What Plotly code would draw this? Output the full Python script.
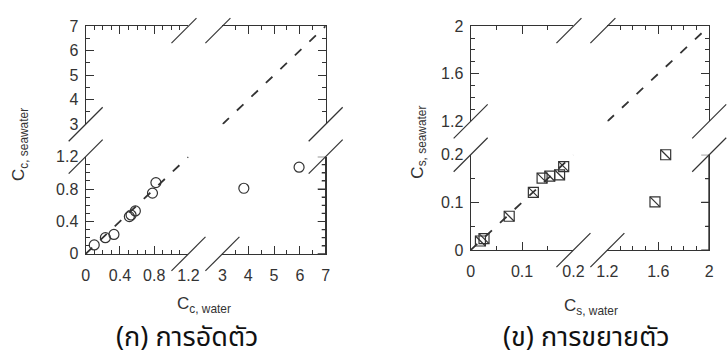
import plotly.graph_objects as go

# ---------------- data ----------------
cc_water = [0.10, 0.23, 0.33, 0.51, 0.53, 0.58, 0.78, 0.82, 3.83, 5.97]
cc_seawater = [0.11, 0.20, 0.24, 0.46, 0.48, 0.53, 0.75, 0.88, 0.81, 1.07]

cs_water = [0.019, 0.026, 0.075, 0.122, 0.139, 0.154, 0.173, 0.181, 1.574, 1.658]
cs_seawater = [0.019, 0.024, 0.071, 0.121, 0.151, 0.155, 0.158, 0.175, 0.101, 0.200]

# broken-axis ranges (low segment, high segment)
cc_lo = [0, 1.2]
cc_hi = [3, 7]
cs_lo = [0, 0.2]
cs_hi = [1.2, 2]

cc_x_title = "C<sub>c, water</sub>"
cc_y_title = "C<sub>c, seawater</sub>"
cs_x_title = "C<sub>s, water</sub>"
cs_y_title = "C<sub>s, seawater</sub>"
caption_a = "(ก) การอัดตัว"
caption_b = "(ข) การขยายตัว"

W, H = 727, 362
INK = "#333333"
FONT = "Liberation Sans, Arial, sans-serif"
MAJ, MIN = 8, 4


def px_x(a, b):
    return [a / W, b / W]


def px_y(top, bottom):
    return [1 - bottom / H, 1 - top / H]


fig = go.Figure()
layout = {}
shapes = []
annotations = []


def axis_common(rng, dtick, minor_dtick, side, labels, dom, anchor, is_x):
    return dict(
        range=rng, domain=dom, anchor=anchor, side=side,
        tickmode="linear", tick0=rng[0], dtick=dtick,
        ticks="inside", ticklen=MAJ, tickwidth=1.2, tickcolor=INK,
        minor=dict(ticks="inside", ticklen=MIN, dtick=minor_dtick),
        showline=True, linecolor=INK, linewidth=1.3, mirror=False,
        showgrid=False, zeroline=False, showticklabels=labels,
        tickfont=dict(family=FONT, size=16, color=INK),
        ticklabelstandoff=7 if is_x else 3,
    )


def tick_values(rng, step):
    n = int(round((rng[1] - rng[0]) / step))
    return [rng[0] + i * step for i in range(n + 1)]


def slash(xp, yp, up=17, down=17):
    shapes.append(dict(
        type="line", xref="paper", yref="paper",
        xsizemode="pixel", ysizemode="pixel",
        xanchor=xp, yanchor=yp,
        x0=-down, x1=up, y0=-down, y1=up,
        line=dict(color=INK, width=1.2),
    ))


def right_edge(xname, yname, xrng, yrng, dtick, mdtick, xp, ydom):
    # right frame line of the lower-right block, with inward ticks
    xe = xrng[1]
    fig.add_trace(go.Scatter(
        x=[xe, xe], y=yrng, mode="lines", xaxis=xname, yaxis=yname,
        cliponaxis=False, line=dict(color=INK, width=1.3),
        hoverinfo="skip", showlegend=False))
    shapes.append(dict(type="line", xref="paper", yref="paper",
                       x0=xp, x1=xp, y0=ydom[0], y1=ydom[1],
                       line=dict(color=INK, width=1.3)))
    majors = tick_values(yrng, dtick)
    for v in tick_values(yrng, mdtick):
        is_major = any(abs(v - m) < 1e-9 for m in majors)
        shapes.append(dict(
            type="line", xref=xname, yref=yname,
            xsizemode="pixel", xanchor=xe,
            x0=-(MAJ if is_major else MIN), x1=0, y0=v, y1=v,
            line=dict(color=INK, width=1.2)))


def panel(idx0, xs, ys, lo, hi, dticks, dom_px, symbol_traces):
    (xlo_dom, xhi_dom, ylo_dom, yhi_dom) = dom_px
    (dt_lo, mdt_lo, dt_hi, mdt_hi) = dticks
    ids = [idx0 + i for i in range(4)]
    names = ["" if i == 1 else str(i) for i in ids]
    cfg = [
        ("bottom", lo, dt_lo, mdt_lo, True, xlo_dom, "left", lo, dt_lo, mdt_lo, True, ylo_dom),
        ("bottom", hi, dt_hi, mdt_hi, True, xhi_dom, "right", lo, dt_lo, mdt_lo, False, ylo_dom),
        ("top", lo, dt_lo, mdt_lo, False, xlo_dom, "left", hi, dt_hi, mdt_hi, True, yhi_dom),
        ("top", hi, dt_hi, mdt_hi, False, xhi_dom, "right", hi, dt_hi, mdt_hi, False, yhi_dom),
    ]
    for i, (n, c) in enumerate(zip(names, cfg)):
        xs_side, xr, xdt, xmdt, xl, xd, ys_side, yr, ydt, ymdt, yl, yd = c
        layout["xaxis" + n] = axis_common(xr, xdt, xmdt, xs_side, xl, xd, "y" + n, True)
        layout["yaxis" + n] = axis_common(yr, ydt, ymdt, ys_side, yl, yd, "x" + n, False)
        fig.add_trace(go.Scatter(
            x=xr, y=yr, mode="markers", xaxis="x" + n, yaxis="y" + n,
            marker=dict(opacity=0, size=1), hoverinfo="skip", showlegend=False))

    right_edge("x" + names[1], "y" + names[1], hi, lo, dt_lo, mdt_lo,
               xhi_dom[1], ylo_dom)

    pts = {0: ([], []), 1: ([], [])}
    for x, y in zip(xs, ys):
        k = 0 if x <= lo[1] else 1
        pts[k][0].append(x)
        pts[k][1].append(y)

    for n, r in ((names[0], lo), (names[3], hi)):
        fig.add_trace(go.Scatter(
            x=r, y=r, mode="lines", xaxis="x" + n, yaxis="y" + n,
            line=dict(color=INK, width=1.8, dash="9px,11px"),
            hoverinfo="skip", showlegend=False))

    for k, n in ((0, names[0]), (1, names[1])):
        for sym in symbol_traces:
            fig.add_trace(go.Scatter(
                x=pts[k][0], y=pts[k][1], mode="markers",
                xaxis="x" + n, yaxis="y" + n, cliponaxis=False,
                marker=dict(symbol=sym, size=10, color=INK,
                            line=dict(color=INK, width=1.2)),
                showlegend=False))

    L, R = xlo_dom[0], xhi_dom[1]
    B, T = ylo_dom[0], yhi_dom[1]
    for xp in (xlo_dom[1], xhi_dom[0]):
        slash(xp, B)
        slash(xp, T, up=8)
    for yp in (ylo_dom[1], yhi_dom[0]):
        slash(L, yp)
        slash(R, yp)


panel(1, cc_water, cc_seawater, cc_lo, cc_hi, (0.4, 0.1, 1, 0.5),
      (px_x(77, 183), px_x(218, 324.5), px_y(156, 258), px_y(19, 122)),
      ["circle-open"])
panel(5, cs_water, cs_seawater, cs_lo, cs_hi, (0.1, 0.05, 0.4, 0.1),
      (px_x(474, 580), px_x(615, 720), px_y(154, 254), px_y(19, 119)),
      ["square-open", "line-nw-open"])


def ann(text, x, y, size, angle=0, family=FONT, color=INK, xanchor="center"):
    annotations.append(dict(
        text=text, x=x / W, y=1 - y / H, xref="paper", yref="paper",
        xanchor=xanchor, yanchor="middle", showarrow=False, textangle=angle,
        font=dict(family=family, size=size, color=color)))


THAI = "Noto Sans Thai, Noto Sans, DejaVu Sans, sans-serif"
ann(cc_x_title, 199, 312, 17)
ann(cc_y_title, 10, 143, 17, angle=-90)
ann(cs_x_title, 598, 314, 17)
ann(cs_y_title, 421, 141, 17, angle=-90)
ann(caption_a, 181, 346, 27, family=THAI, color="#111111")
ann(caption_b, 593, 346, 27, family=THAI, color="#111111")

fig.update_layout(
    **layout,
    shapes=shapes,
    annotations=annotations,
    width=W, height=H, autosize=False,
    margin=dict(l=0, r=0, t=0, b=0),
    paper_bgcolor="white", plot_bgcolor="rgba(0,0,0,0)",
    showlegend=False,
)

fig.write_html("out.html", config={"displayModeBar": False})
